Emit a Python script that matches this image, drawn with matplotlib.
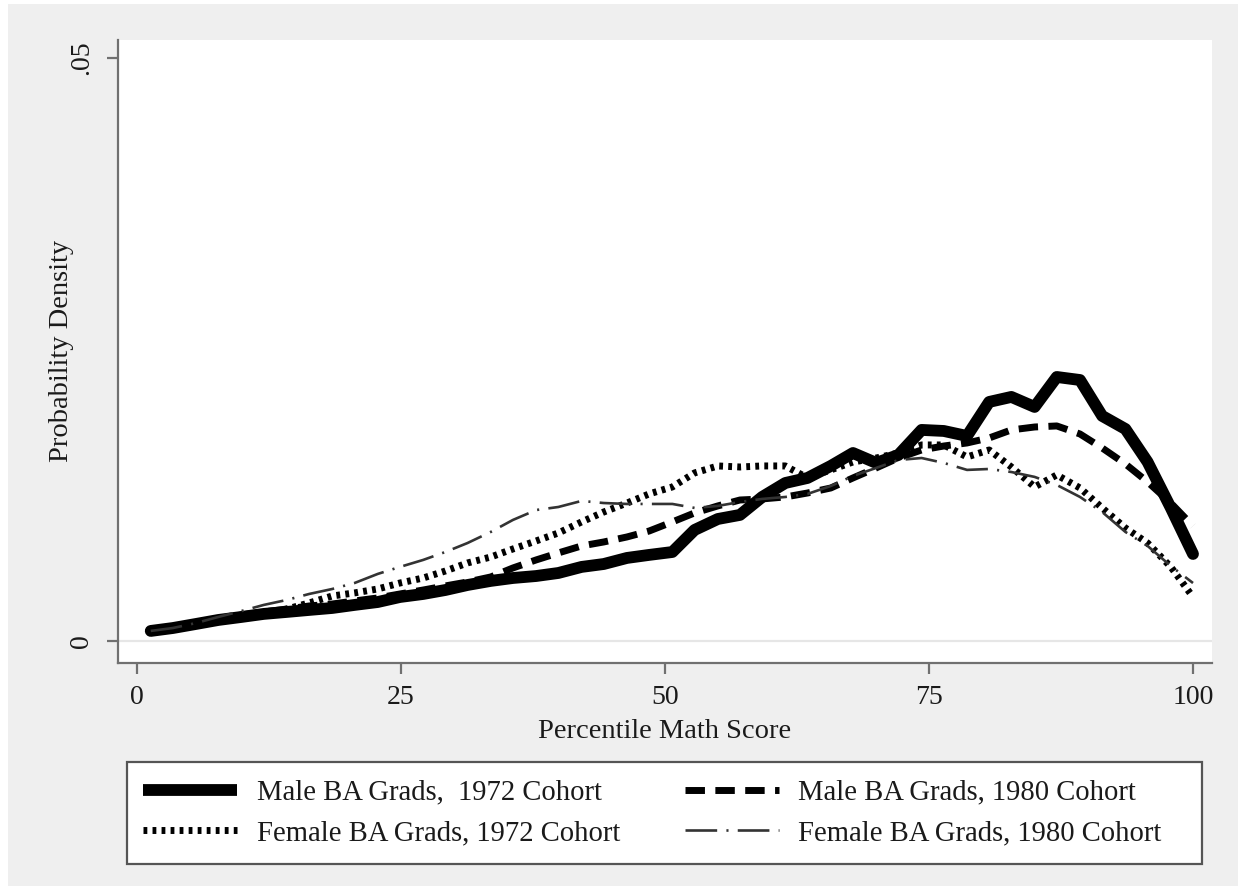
import matplotlib
matplotlib.use("Agg")
import matplotlib.pyplot as plt
from matplotlib.patches import Rectangle
from matplotlib.lines import Line2D

# ---------------- data ----------------
percentile = [1.3, 3.4, 5.6, 7.7, 9.9, 12.0, 14.2, 16.3, 18.5, 20.6, 22.8, 24.9,
              27.1, 29.2, 31.3, 33.5, 35.6, 37.8, 39.9, 42.1, 44.2, 46.4, 48.5, 50.7,
              52.8, 55.0, 57.1, 59.2, 61.4, 63.5, 65.7, 67.8, 70.0, 72.1, 74.3, 76.4,
              78.6, 80.7, 82.8, 85.0, 87.1, 89.3, 91.4, 93.6, 95.7, 97.9, 100.0]

male_1972 = [0.00086, 0.00111, 0.00146, 0.00180, 0.00206, 0.00232, 0.00249, 0.00266,
             0.00283, 0.00309, 0.00334, 0.00377, 0.00403, 0.00437, 0.00480, 0.00515,
             0.00540, 0.00557, 0.00583, 0.00635, 0.00660, 0.00712, 0.00738, 0.00763,
             0.00952, 0.01046, 0.01081, 0.01235, 0.01355, 0.01398, 0.01501, 0.01612,
             0.01527, 0.01595, 0.01810, 0.01801, 0.01758, 0.02050, 0.02093, 0.02007,
             0.02264, 0.02238, 0.01930, 0.01818, 0.01535, 0.01141, 0.00746]

male_1980 = [0.00086, 0.00120, 0.00154, 0.00189, 0.00223, 0.00249, 0.00274, 0.00300,
             0.00317, 0.00343, 0.00369, 0.00403, 0.00437, 0.00472, 0.00506, 0.00549,
             0.00626, 0.00695, 0.00755, 0.00815, 0.00849, 0.00892, 0.00943, 0.01021,
             0.01098, 0.01158, 0.01209, 0.01218, 0.01235, 0.01269, 0.01312, 0.01398,
             0.01484, 0.01569, 0.01638, 0.01672, 0.01698, 0.01741, 0.01810, 0.01835,
             0.01844, 0.01775, 0.01655, 0.01518, 0.01364, 0.01183, 0.00986]

female_1972 = [0.00077, 0.00111, 0.00146, 0.00189, 0.00206, 0.00232, 0.00274, 0.00326,
               0.00386, 0.00412, 0.00446, 0.00497, 0.00540, 0.00600, 0.00669, 0.00720,
               0.00789, 0.00858, 0.00926, 0.01021, 0.01106, 0.01183, 0.01261, 0.01321,
               0.01441, 0.01501, 0.01492, 0.01501, 0.01501, 0.01398, 0.01467, 0.01535,
               0.01569, 0.01612, 0.01681, 0.01681, 0.01578, 0.01638, 0.01492, 0.01321,
               0.01424, 0.01312, 0.01141, 0.00969, 0.00840, 0.00635, 0.00377]

female_1980 = [0.00086, 0.00111, 0.00154, 0.00206, 0.00257, 0.00309, 0.00352, 0.00403,
               0.00446, 0.00497, 0.00575, 0.00635, 0.00695, 0.00763, 0.00840, 0.00935,
               0.01038, 0.01123, 0.01149, 0.01201, 0.01183, 0.01175, 0.01175, 0.01175,
               0.01141, 0.01158, 0.01192, 0.01218, 0.01235, 0.01261, 0.01329, 0.01415,
               0.01484, 0.01552, 0.01569, 0.01527, 0.01467, 0.01475, 0.01449, 0.01407,
               0.01338, 0.01235, 0.01106, 0.00935, 0.00815, 0.00643, 0.00497]

labels = ["Male BA Grads,  1972 Cohort", "Male BA Grads, 1980 Cohort",
          "Female BA Grads, 1972 Cohort", "Female BA Grads, 1980 Cohort"]
xticks = [0, 25, 50, 75, 100]
xticklabels = ["0", "25", "50", "75", "100"]
yticks = [0, 0.05]
yticklabels = ["0", ".05"]
xlabel = "Percentile Math Score"
ylabel = "Probability Density"

# ---------------- figure ----------------
W, H = 1238, 886
plt.rcParams['font.family'] = ['Liberation Serif', 'DejaVu Serif']
fig = plt.figure(figsize=(W / 100, H / 100), dpi=100)
fig.patch.set_facecolor("white")
fig.add_artist(Rectangle((8 / W, -0.01), 1.0, 1.01 - 4 / H, transform=fig.transFigure,
                         facecolor="#efefef", edgecolor="none", zorder=-10))

ax = fig.add_axes([118 / W, 1 - 663 / H, (1212 - 118) / W, (663 - 40) / H])
ax.set_facecolor("white")
ax.set_xlim(-1.8, 101.8)
ax.set_ylim(-0.00189, 0.05154)

spine_col = "#707070"
for s in ["top", "right"]:
    ax.spines[s].set_visible(False)
for s in ["left", "bottom"]:
    ax.spines[s].set_color(spine_col)
    ax.spines[s].set_linewidth(1.6)

ax.axhline(0, color="#e6e6e6", lw=1.6, zorder=0)

ax.set_xticks(xticks)
ax.set_xticklabels(xticklabels)
ax.set_yticks(yticks)
ax.set_yticklabels(yticklabels, rotation=90, va="center")
ax.tick_params(axis="both", direction="out", length=8, width=1.6, color=spine_col,
               labelsize=20, labelcolor="#1a1a1a")
ax.tick_params(axis="x", pad=8)
ax.tick_params(axis="y", pad=9)

ax.plot(percentile, male_1972, color="black", lw=8.5, solid_capstyle="round",
        solid_joinstyle="round", zorder=3)
ax.plot(percentile, male_1980, color="black", lw=5, dashes=(2.8, 1.5),
        dash_capstyle="butt", zorder=4)
ax.plot(percentile, female_1972, color="black", lw=5, dashes=(0.55, 0.75),
        dash_capstyle="butt", zorder=5)
ax.plot(percentile, female_1980, color="#333333", lw=1.9, dashes=(12, 3.5, 0.8, 3.5),
        zorder=6)

fig.text(665 / W, 1 - 732 / H, xlabel, ha="center", va="center", fontsize=20.5,
         color="#1a1a1a")
fig.text(62 / W, 1 - 351 / H, ylabel, ha="center", va="center", rotation=90,
         fontsize=20.5, color="#1a1a1a")

# legend frame drawn separately (Stata-like asymmetric padding)
fig.add_artist(Rectangle((127 / W, 1 - 864 / H), (1202 - 127) / W, (864 - 762) / H,
                         transform=fig.transFigure, facecolor="white",
                         edgecolor="#555555", linewidth=1.6, zorder=1))

handles = [
    Line2D([], [], color="black", lw=8.5, solid_capstyle="butt"),
    Line2D([], [], color="black", lw=5, dashes=(0.55, 0.75), dash_capstyle="butt"),
    Line2D([], [], color="black", lw=5, dashes=(2.8, 1.5), dash_capstyle="butt"),
    Line2D([], [], color="#333333", lw=1.9, dashes=(12, 3.5, 0.8, 3.5)),
]
hlabels = [labels[0], labels[2], labels[1], labels[3]]
leg = fig.legend(handles, hlabels, ncol=2, loc="center left",
                 bbox_to_anchor=(143 / W, 1 - 813 / H),
                 fontsize=20.6, frameon=False,
                 handlelength=3.3, handletextpad=0.68, columnspacing=2.25,
                 labelspacing=0.5, borderpad=0, borderaxespad=0)
leg.set_zorder(2)
for t in leg.get_texts():
    t.set_color("#1a1a1a")

fig.savefig("out.png", dpi=100, facecolor=fig.get_facecolor())
